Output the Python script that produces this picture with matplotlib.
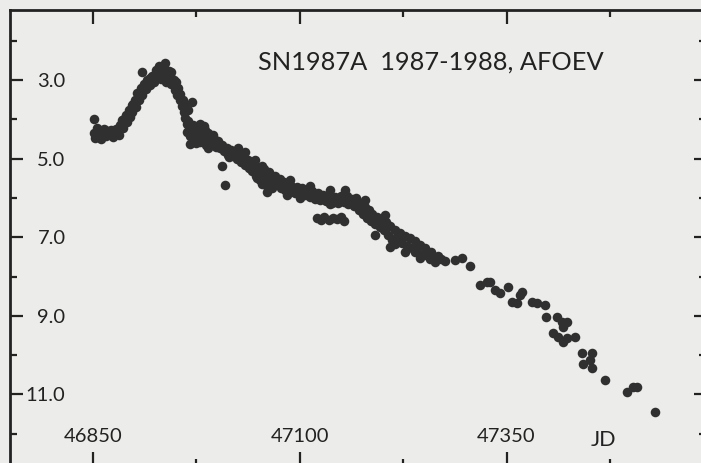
import matplotlib.pyplot as plt

plt.rcParams['font.family'] = ['Lato', 'DejaVu Sans']

# early plateau, rise and maximum (JD - 2400000, visual magnitude)
jd_rise = [46851, 46852, 46853, 46855, 46857, 46858, 46860, 46862, 46864, 46866,
           46868, 46870, 46872, 46874, 46876, 46878, 46880, 46882, 46884, 46886,
           46883, 46885, 46887, 46890, 46891, 46894, 46895, 46897, 46898, 46901,
           46902, 46904, 46906, 46908, 46909, 46912, 46914, 46910, 46916, 46919,
           46921, 46924, 46926, 46927,
           46930, 46932, 46933, 46936, 46938, 46939, 46942, 46944,
           46937, 46945, 46950, 46919, 46888, 46899, 46911]
mag_rise = [3.99, 4.35, 4.47, 4.22, 4.40, 4.30, 4.50, 4.33, 4.25, 4.42,
            4.30, 4.38, 4.28, 4.45, 4.35, 4.25, 4.32, 4.40, 4.22, 4.12,
            4.15, 4.02, 4.22, 3.89, 4.07, 3.76, 3.94, 3.64, 3.81, 3.51,
            3.69, 3.33, 3.51, 3.20, 3.38, 3.10, 3.23, 2.80, 3.00, 3.13,
            2.90, 3.05, 2.75, 2.95,
            2.64, 2.80, 2.97, 2.69, 2.87, 3.05, 2.77, 2.95,
            2.57, 2.80, 3.05, 2.95, 4.00, 3.60, 3.22]

# decline after maximum and the main band
jd_decline = [46945, 46948, 46949, 46952, 46953, 46955, 46956, 46958, 46960, 46961,
              46970, 46962, 46964,
              46965, 46966, 46967, 46971, 46972, 46973, 46977, 46978, 46979, 46983,
              46984, 46987, 46989, 46990, 46993, 46995, 46996, 46999, 47001, 47004,
              47006, 47008, 47012, 47013, 47017, 47019, 47022, 47024, 47028, 47029,
              47032, 47034, 47037, 47039, 47041, 47043, 47046, 47047, 47049, 47052,
              47053, 47055, 47057, 47059, 47061, 47063, 47065, 47067, 47070, 47072,
              47076, 47077, 47081, 47082, 47086, 47088, 47090, 47094, 47097, 47100,
              47103, 47106, 47109, 47112, 47115, 47118, 47122, 47124, 47128, 47132,
              47135, 47139, 47143, 47146, 47150, 47153, 47157, 47159, 47163, 47166,
              47169, 47172, 47174, 47176, 47179, 47181, 47184, 47186, 47188, 47191,
              47193, 47197, 47199, 47202, 47204, 47207, 47209, 47211, 47215, 47217,
              47221, 47224, 47227, 47230, 47233, 47236, 47239, 47242, 47245, 47248,
              47251, 47255, 47259, 47262, 47267, 47271,
              47006, 47010,
              46968, 46975, 46981, 46986, 46992, 47015, 47026, 47044, 47060, 47085,
              47110, 47140, 47168, 47195, 47220,
              46959, 46965, 46964, 46973, 46979, 46985, 46991, 46997, 46989,
              47034, 47040, 47046, 47049, 47054,
              47088, 47112, 47137, 47155, 47100, 47137,
              47215, 47239, 47257, 47276,
              47191, 47209, 47227, 47245, 47263, 47179, 47203]
mag_decline = [3.10, 3.00, 3.25, 3.38, 3.20, 3.51, 3.36, 3.66, 3.81, 3.64,
               3.56, 3.97, 4.12,
               4.04, 4.27, 4.43, 4.15, 4.35, 4.53, 4.22, 4.43, 4.58, 4.30,
               4.48, 4.65, 4.35, 4.53, 4.65, 4.40, 4.58, 4.71, 4.55, 4.73,
               4.65, 4.81, 4.73, 4.91, 4.78, 4.94, 4.83, 5.01, 4.88, 5.09,
               4.96, 5.16, 5.04, 5.24, 5.14, 5.32, 5.19, 5.44, 5.29, 5.55,
               5.37, 5.65, 5.27, 5.49, 5.70, 5.34, 5.57, 5.75, 5.44, 5.65,
               5.52, 5.75, 5.60, 5.80, 5.65, 5.85, 5.70, 5.88, 5.72, 5.90,
               5.75, 5.93, 5.80, 5.98, 5.82, 6.03, 5.88, 6.05, 5.93, 6.08,
               5.95, 6.13, 5.98, 6.13, 5.95, 6.10, 5.95, 6.16, 6.03, 6.21,
               6.08, 6.31, 6.16, 6.41, 6.23, 6.51, 6.31, 6.59, 6.41, 6.66,
               6.49, 6.74, 6.54, 6.82, 6.61, 6.94, 6.72, 7.07, 6.82, 7.02,
               6.89, 7.15, 6.97, 7.23, 7.02, 7.28, 7.10, 7.38, 7.20, 7.45,
               7.28, 7.48, 7.38, 7.53, 7.48, 7.56,
               5.19, 5.67,
               4.62, 4.60, 4.47, 4.28, 4.42, 4.96, 4.72, 5.08, 5.85, 5.92,
               5.87, 6.03, 6.00, 6.62, 7.05,
               3.51, 3.76, 4.32, 4.22, 4.12, 4.17, 4.53, 4.50, 4.73,
               4.83, 5.24, 5.04, 5.49, 5.19,
               5.55, 5.70, 5.80, 5.80, 6.00, 6.16,
               7.17, 7.38, 7.56, 7.61,
               6.94, 7.25, 7.38, 7.53, 7.63, 6.05, 6.44]

# fainter parallel group
jd_branch = [47121, 47126, 47130, 47135, 47140, 47145, 47150, 47153]
mag_branch = [6.51, 6.56, 6.49, 6.56, 6.51, 6.54, 6.49, 6.59]

# late tail
jd_tail = [47288, 47296, 47306, 47318, 47326, 47330, 47336, 47342, 47352, 47357,
           47363, 47366, 47369, 47381, 47387, 47396, 47398, 47411, 47417, 47423,
           47418, 47406, 47412, 47418, 47423, 47433, 47441, 47453, 47442, 47451,
           47453, 47469, 47496, 47503, 47508, 47529]
mag_tail = [7.58, 7.53, 7.73, 8.22, 8.14, 8.14, 8.34, 8.42, 8.27, 8.65,
            8.68, 8.47, 8.39, 8.65, 8.68, 8.73, 9.03, 9.03, 9.16, 9.16,
            9.29, 9.44, 9.54, 9.67, 9.57, 9.54, 9.95, 9.95, 10.23, 10.13,
            10.33, 10.64, 10.94, 10.81, 10.81, 11.45]

x_major = [46850, 47100, 47350]
x_minor = [46975, 47225, 47475]
y_major = [3, 5, 7, 9, 11]
y_labels = ['3.0', '5.0', '7.0', '9.0', '11.0']
y_minor = [2, 4, 6, 8, 10, 12]

paper = '#ececea'
ink = '#222222'
dot = '#303030'

fig = plt.figure(figsize=(7.01, 4.63), dpi=100)
fig.patch.set_facecolor(paper)
ax = fig.add_axes([10 / 701, -3 / 463, 696 / 701, 456 / 463])
ax.set_facecolor(paper)

for jd, mag in [(jd_rise, mag_rise), (jd_decline, mag_decline),
                (jd_branch, mag_branch), (jd_tail, mag_tail)]:
    ax.plot(jd, mag, 'o', color=dot, ms=6.9, mec='none')

ax.set_xlim(46750, 47591)
ax.set_ylim(12.82, 1.22)

ax.set_xticks(x_major)
ax.set_xticklabels([str(v) for v in x_major])
ax.set_xticks(x_minor, minor=True)
ax.set_yticks(y_major)
ax.set_yticklabels(y_labels)
ax.set_yticks(y_minor, minor=True)

ax.tick_params(which='both', direction='in', top=True, right=True,
               width=1.6, color=ink, labelcolor=ink, labelsize=14.5)
ax.tick_params(axis='x', which='major', length=10, pad=-27)
ax.tick_params(axis='x', which='minor', length=5)
ax.tick_params(axis='y', which='major', length=9, pad=-40)
ax.tick_params(axis='y', which='minor', length=5)

for side in ['left', 'top', 'right', 'bottom']:
    ax.spines[side].set_linewidth(2.0)
    ax.spines[side].set_color(ink)
ax.spines['right'].set_visible(False)

ax.text(0.357, 0.886, 'SN1987A  1987-1988, AFOEV', transform=ax.transAxes,
        ha='left', va='center', fontsize=18.3, color=ink)
ax.text(0.853, 0.057, 'JD', transform=ax.transAxes,
        ha='center', va='center', fontsize=15.5, color=ink)

fig.savefig('out.png', dpi=100, facecolor=paper)
